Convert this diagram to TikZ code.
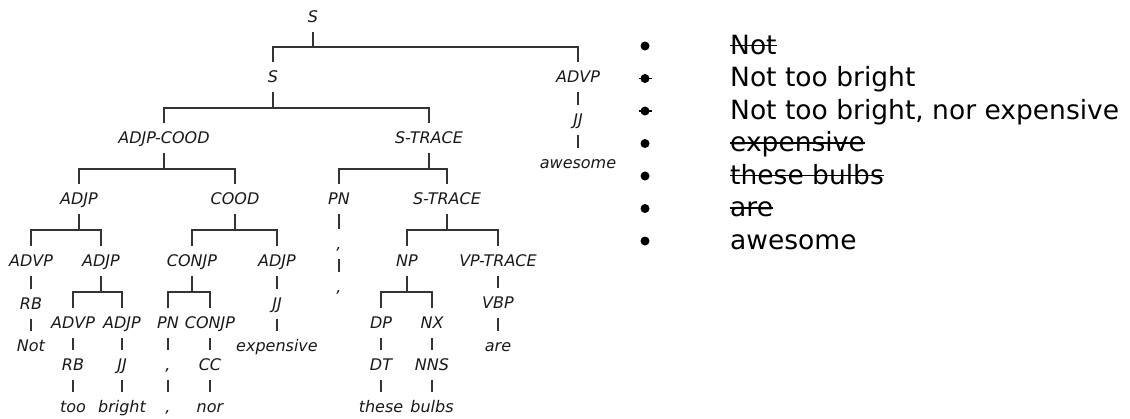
\documentclass[tikz,border=0pt]{standalone}
\usepackage{fontspec}
\newfontfamily\dv{DejaVu Sans}
\usetikzlibrary{calc}
\tikzset{
  tn/.style={font=\dv\itshape\fontsize{16}{16}\selectfont, text=black!90, inner xsep=1pt, inner ysep=9pt, text height=11pt, text depth=0pt},
  edge/.style={draw=black!80, line width=2pt},
  li/.style={font=\dv\fontsize{26.5}{26.5}\selectfont, anchor=base west, inner sep=0pt, text=black},
  strike/.style={line width=1.6pt, draw=black},
  bul/.style={circle, fill=black, inner sep=0pt, minimum size=9pt},
  bulmark/.style={line width=1.2pt, draw=black}
}
\newcommand\mkfork[3]{\coordinate (#1b) at (#1.south|-#2.north);
  \draw[edge] (#1.south) -- ($(#1.south)!.5!(#1b)$) coordinate (#1m) (#2.north) |- (#1m) -| (#3.north);}
\newcommand\mklink[2]{\draw[edge] (#1.south) -- (#2.north);}
\begin{document}
\begin{tikzpicture}[x=1pt,y=-1pt]
\useasboundingbox (0,0) rectangle (1130,418);
% ---- tree nodes ----
\node[tn] (r) at (313,17) {S};
\node[tn] (s) at (273,77) {S};
\node[tn] (av) at (578,77) {ADVP};
\node[tn] (avj) at (578,120) {JJ};
\node[tn] (aww) at (578,163) {awesome};
\node[tn] (ac) at (164,138) {ADJP-COOD};
\node[tn] (st) at (429,138) {S-TRACE};
\node[tn] (a1) at (79,199) {ADJP};
\node[tn] (co) at (235,199) {COOD};
\node[tn] (pn) at (339,199) {PN};
\node[tn] (st2) at (447,199) {S-TRACE};
\node[tn] (pnt) at (339,244) {,};
\node[tn] (pnw) at (339,287) {,};
\node[tn] (av1) at (31,261) {ADVP};
\node[tn] (a2) at (101,261) {ADJP};
\node[tn] (cj) at (192,261) {CONJP};
\node[tn] (a3) at (277,261) {ADJP};
\node[tn] (np) at (407,261) {NP};
\node[tn] (vp) at (498,261) {VP-TRACE};
\node[tn] (rb1) at (31,304) {RB};
\node[tn] (w1) at (31,346) {Not};
\node[tn] (jj3) at (277,304) {JJ};
\node[tn] (w3) at (277,346) {expensive};
\node[tn] (vb) at (498,303) {VBP};
\node[tn] (wv) at (498,346) {are};
\node[tn] (av2) at (73,323) {ADVP};
\node[tn] (a4) at (122,323) {ADJP};
\node[tn] (pn2) at (168,323) {PN};
\node[tn] (cj2) at (210,323) {CONJP};
\node[tn] (dp) at (381,323) {DP};
\node[tn] (nx) at (432,323) {NX};
\node[tn] (rb2) at (73,365) {RB};
\node[tn] (jj4) at (122,365) {JJ};
\node[tn] (pnt2) at (168,365) {,};
\node[tn] (cc) at (210,365) {CC};
\node[tn] (dt) at (381,365) {DT};
\node[tn] (nns) at (432,365) {NNS};
\node[tn] (wtoo) at (73,407) {too};
\node[tn] (wbr) at (122,407) {bright};
\node[tn] (wcom) at (168,407) {,};
\node[tn] (wnor) at (210,407) {nor};
\node[tn] (wthe) at (381,407) {these};
\node[tn] (wbul) at (432,407) {bulbs};
% ---- tree edges ----
\mkfork{r}{s}{av}
\mklink{av}{avj}
\mklink{avj}{aww}
\mkfork{s}{ac}{st}
\mkfork{ac}{a1}{co}
\mkfork{st}{pn}{st2}
\mklink{pn}{pnt}
\mklink{pnt}{pnw}
\mkfork{a1}{av1}{a2}
\mkfork{co}{cj}{a3}
\mkfork{st2}{np}{vp}
\mklink{av1}{rb1}
\mklink{rb1}{w1}
\mklink{a3}{jj3}
\mklink{jj3}{w3}
\mklink{vp}{vb}
\mklink{vb}{wv}
\mkfork{a2}{av2}{a4}
\mkfork{cj}{pn2}{cj2}
\mkfork{np}{dp}{nx}
\mklink{av2}{rb2}
\mklink{a4}{jj4}
\mklink{pn2}{pnt2}
\mklink{cj2}{cc}
\mklink{dp}{dt}
\mklink{nx}{nns}
\mklink{rb2}{wtoo}
\mklink{jj4}{wbr}
\mklink{pnt2}{wcom}
\mklink{cc}{wnor}
\mklink{dt}{wthe}
\mklink{nns}{wbul}
% ---- list ----
\foreach \i in {1,...,7} {
  \node[bul] (b\i) at (645,{46+32.5*(\i-1)}) {};
}
\node[li] (l1) at (730,54) {Not};
\node[li] (l2) at (730,86.5) {Not too bright};
\node[li] (l3) at (730,119) {Not too bright, nor expensive};
\node[li] (l4) at (730,151.5) {expensive};
\node[li] (l5) at (730,184) {these bulbs};
\node[li] (l6) at (730,216.5) {are};
\node[li] (l7) at (730,249) {awesome};
\foreach \n in {l1,l4,l5,l6} {
  \draw[strike] ([yshift=8.5pt]\n.base west) -- ([yshift=8.5pt]\n.base east);
}
\foreach \n in {b2,b3} {
  \draw[bulmark] ([xshift=-6.5pt]\n.center) -- ([xshift=6.5pt]\n.center);
}
\end{tikzpicture}
\end{document}
